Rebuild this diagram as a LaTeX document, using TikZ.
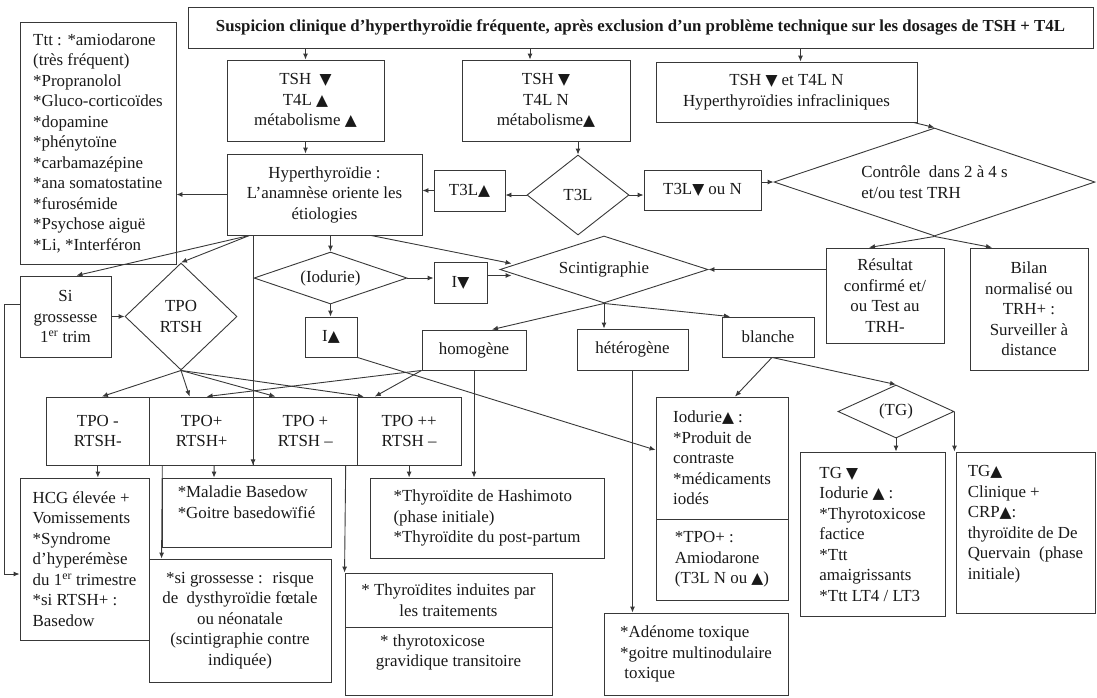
\documentclass[tikz,border=0pt]{standalone}
\usepackage{fontspec}
\setmainfont{Liberation Serif}
\newfontfamily\symbfont{DejaVu Sans}[Scale=0.92]
\usetikzlibrary{arrows.meta,shapes.geometric}
\newcommand{\tup}{{\symbfont ▲}}
\newcommand{\tdn}{{\symbfont ▼}}

\begin{document}
\begin{tikzpicture}[x=1pt,y=-1pt,
  font=\fontsize{16.9}{20.5}\selectfont,
  box/.style={draw=black!78,line width=0.9pt,rectangle,inner sep=5pt,align=center,text=black!90},
  lbox/.style={box,align=left},
  dia/.style={draw=black!78,line width=0.9pt,diamond,inner sep=0pt,aspect=2,align=center,text=black!90},
  sz/.style 2 args={minimum width=#1pt,minimum height=#2pt},
  arr/.style={draw=black!78,line width=0.9pt,-{Latex[length=6pt,width=5pt]}}]
  \useasboundingbox (0,0) rectangle (1097,697);

  %title
  \node[box,sz={905}{41},font=\fontsize{16.8}{20}\selectfont\bfseries] (top) at (640.5,27.5)
    {Suspicion clinique d’hyperthyroïdie fréquente, après exclusion d’un problème technique sur les dosages de TSH + T4L};

  %first level
  \node[lbox,sz={156}{242}] (ttt) at (98,143) {Ttt : *amiodarone\\(très fréquent)\\*Propranolol\\*Gluco-corticoïdes\\*dopamine\\*phénytoïne\\*carbamazépine\\*ana somatostatine\\*furosémide\\*Psychose aiguë\\*Li, *Interféron};
  \node[box,sz={157}{81}] (boxA) at (305.5,100.5) {TSH~~\tdn\\T4L \tup\\métabolisme \tup};
  \node[box,sz={168}{81}] (boxB) at (546,100.5) {TSH \tdn\\T4L N\\métabolisme\tup};
  \node[box,sz={261}{60}] (boxC) at (786.5,92) {TSH \tdn\ et T4L N\\Hyperthyroïdies infracliniques};
  \node[box,sz={195}{81}] (hyper) at (324.5,194.5) {Hyperthyroïdie :\\L’anamnèse oriente les\\étiologies};
  \node[box,sz={71}{41}] (t3lup) at (469.5,190.5) {T3L\tup};
  \node[dia,sz={102}{80}] (t3l) at (578,195) {T3L};
  \node[box,sz={117}{40}] (t3ldn) at (702.5,190) {T3L\tdn\ ou N};
  \node[dia,sz={321}{108},aspect=3,align=left] (ctrl) at (934.5,182) {Contrôle~ dans 2 à 4 s\\et/ou test TRH};
  \node[box,sz={118}{95}] (result) at (885,295.5) {Résultat\\confirmé et/\\ou Test au\\TRH-};
  \node[box,sz={118}{122}] (bilan) at (1029,309) {Bilan\\normalisé ou\\TRH+ :\\Surveiller à\\distance};

  %scintigraphie, iodurie
  \node[dia,sz={208}{67},aspect=3] (scint) at (604,269.5) {Scintigraphie};
  \node[dia,sz={153}{52},aspect=3] (iod) at (330.5,278) {(Iodurie)};
  \node[box,sz={53}{41}] (idn) at (460.5,282.5) {I\tdn};
  \node[box,sz={52}{40}] (iup) at (331,337) {I\tup};
  \node[box,sz={104}{40}] (homo) at (474,350) {homogène};
  \node[box,sz={111}{41}] (hetero) at (632.5,349.5) {hétérogène};
  \node[box,sz={92}{40}] (blanche) at (768,337) {blanche};
  \node[dia,sz={116}{53}] (tg) at (896,411.5) {(TG)};

  %grossesse, TPO
  \node[box,sz={91}{81}] (sig) at (65.5,316.5) {Si\\grossesse\\1\textsuperscript{er} trim};
  \node[dia,sz={112}{107},aspect=1] (tpo) at (181,316.5) {TPO\\RTSH};
  \foreach \n/\t [count=\i] in {c1/{TPO -\\RTSH-},c2/{TPO+\\RTSH+},c3/{TPO +\\RTSH –},c4/{TPO ++\\RTSH –}}
    \node[box,sz={103.75}{68}] (\n) at (\i*103.75-5.875,431) {\t};

  %etiologies
  \node[lbox,sz={132}{122}] (iodu) at (722,458) {Iodurie\tup~:\\*Produit de\\contraste\\*médicaments\\iodés};
  \node[lbox,sz={132}{81}] (amio) at (722,559.5) {*TPO+ :\\Amiodarone\\(T3L N ou \tup)};
  \node[lbox,sz={145}{164}] (tgdn) at (872.5,534) {TG \tdn\\Iodurie \tup\ :\\*Thyrotoxicose\\factice\\*Ttt\\amaigrissants\\*Ttt LT4 / LT3};
  \node[lbox,sz={139}{161}] (tgup) at (1025.5,532.5) {TG\tup\\Clinique +\\CRP\tup:\\thyroïdite de De\\Quervain~ (phase\\initiale)\\\mbox{}};
  \node[lbox,sz={129}{162}] (hcg) at (84.5,559) {HCG élevée +\\Vomissements\\*Syndrome\\d’hyperémèse\\du 1\textsuperscript{er} trimestre\\*si RTSH+ :\\Basedow};
  \node[lbox,sz={169}{69}] (basedow) at (246.5,512.5) {*Maladie Basedow\\*Goitre basedowïfié\\\mbox{}};
  \node[box,sz={182}{123}] (gross) at (240,620.5) {*si grossesse :~ risque\\de~ dysthyroïdie fœtale\\ou néonatale\\(scintigraphie contre\\indiquée)};
  \node[lbox,sz={234}{80}] (hashi) at (487,518) {*Thyroïdite de Hashimoto\\(phase initiale)\\*Thyroïdite du post-partum};
  \node[box,sz={207}{54}] (thyroA) at (448.5,600) {* Thyroïdites induites par\\les traitements};
  \node[lbox,sz={207}{68}] (thyroB) at (448.5,661) {~* thyrotoxicose\\gravidique transitoire\\\mbox{}};
  \node[lbox,sz={184}{82}] (adeno) at (696,654) {*Adénome toxique\\*goitre multinodulaire\\~toxique};

  %arrows from the title
  \coordinate (inB) at ([xshift=-16pt]boxB.north);
  \coordinate (inC) at ([xshift=14pt]boxC.north);
  \draw[arr] (top.south -| boxA.north) -- (boxA.north);
  \draw[arr] (top.south -| inB) -- (inB);
  \draw[arr] (top.south -| inC) -- (inC);

  %T3L branch
  \draw[arr] (boxA.south) -- (boxA.south |- hyper.north);
  \draw[arr] (boxB.south -| t3l.north) -- (t3l.north);
  \draw[arr] (t3l.west) -- (t3l.west -| t3lup.east);
  \draw[arr] (t3lup.west) -- (t3lup.west -| hyper.east);
  \draw[arr] (t3l.east) -- (t3l.east -| t3ldn.west);
  \draw[arr] (ctrl.west -| t3ldn.east) -- (ctrl.west);
  \draw[arr] ([xshift=-4pt]boxC.south east) -- (ctrl.north);
  \draw[arr] (ctrl.south) -- ([xshift=-16pt]result.north);
  \draw[arr] (ctrl.south) -- ([xshift=-37pt]bilan.north);

  %from hyperthyroidie
  \coordinate (hA) at ([xshift=-75pt]hyper.south);
  \draw[arr] (hyper.west) -- (hyper.west -| ttt.east);
  \draw[arr] (hA) -- ([xshift=11pt]sig.north);
  \draw[arr] (hA) -- (tpo.north);
  \draw[arr] (c3.south west |- hyper.south) -- (c3.south west);
  \draw[arr] (iod.north |- hyper.south) -- (iod.north);
  \draw[arr] ([xshift=46.5pt]hyper.south) -- ([xshift=12pt,yshift=6pt]scint.west);

  %iodurie
  \draw[arr] (iod.east) -- (iod.east -| idn.west);
  \draw[arr] (iod.south) -- (iod.south |- iup.north);
  \draw[arr] ([yshift=7pt]idn.east) -- ([xshift=12pt,yshift=-6pt]scint.west);
  \draw[arr] (iup.south east) -- ([yshift=8pt]iodu.west);

  %scintigraphie
  \draw[arr] (result.west |- scint.east) -- (scint.east);
  \draw[arr] (scint.south) -- ([xshift=18pt]homo.north);
  \draw[arr] (scint.south) -- (scint.south |- hetero.north);
  \draw[arr] (scint.south) -- ([xshift=-38pt]blanche.north);
  \draw[arr] ([xshift=4pt]blanche.south) -- ([xshift=13pt]iodu.north);
  \draw[arr] ([xshift=4pt]blanche.south) -- (tg.north);
  \draw[arr] (tg.south) -- (tg.south |- tgdn.north);
  \draw[arr] (tg.east) -- (tg.east |- tgup.north);
  \draw[arr] (hetero.south) -- (hetero.south |- adeno.north);

  %TPO / RTSH
  \draw[arr] (sig.east) -- (tpo.west);
  \draw[arr] ([yshift=12pt]sig.west) -- ++(-15,0) |- ([yshift=-15pt]hcg.west);
  \foreach \c/\s in {c1/4pt,c2/-12pt,c3/-30pt}
    \draw[arr] (tpo.south) -- ([xshift=\s]\c.north);
  \draw[arr] (tpo.south) -- ([xshift=7pt]c4.north west);
  \draw[arr] (homo.south west) -- ([xshift=5pt]c2.north);
  \draw[arr] (homo.south west) -- ([xshift=18pt]c4.north west);
  \draw[arr] (homo.south) -- (homo.south |- hashi.north);

  %down to the etiologies
  \draw[arr] (c1.south) -- (c1.south |- hcg.north);
  \draw[arr] ([xshift=12.5pt]c2.south) -- ([xshift=-32.5pt]basedow.north);
  \draw[arr] ([xshift=13pt]c2.south west) -- ([xshift=13pt]gross.north west);
  \draw[arr] (c4.south) -- (c4.south |- hashi.north);
  \draw[arr] ([xshift=-12pt]c3.south east) -- (thyroA.north west);
\end{tikzpicture}
\end{document}
